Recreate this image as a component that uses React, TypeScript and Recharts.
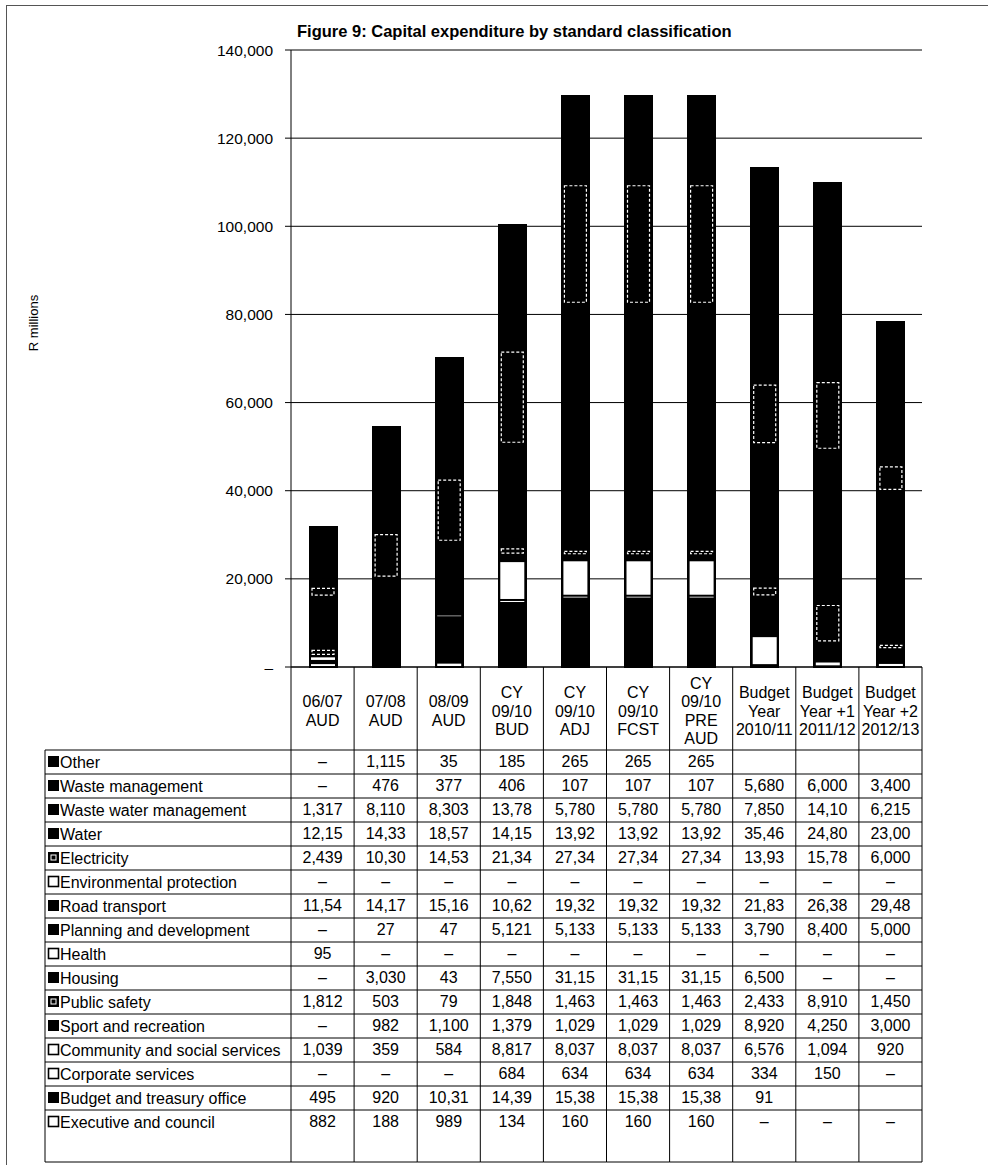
import { BarChart, Bar, XAxis, YAxis, CartesianGrid } from 'recharts'

const FONT = "'Liberation Sans', Arial, sans-serif"

// categories and the multi-line headers shown in the data table
const categories = [
  '06/07 AUD', '07/08 AUD', '08/09 AUD', 'CY 09/10 BUD', 'CY 09/10 ADJ',
  'CY 09/10 FCST', 'CY 09/10 PRE AUD', 'Budget Year 2010/11',
  'Budget Year +1 2011/12', 'Budget Year +2 2012/13',
]
const headerLines = [
  ['06/07', 'AUD'], ['07/08', 'AUD'], ['08/09', 'AUD'],
  ['CY', '09/10', 'BUD'], ['CY', '09/10', 'ADJ'], ['CY', '09/10', 'FCST'],
  ['CY', '09/10', 'PRE', 'AUD'],
  ['Budget', 'Year', '2010/11'], ['Budget', 'Year +1', '2011/12'], ['Budget', 'Year +2', '2012/13'],
]

// R millions, in table order (0 shows as a dash, null as an empty cell)
const other         = [0, 1115, 35, 185, 265, 265, 265, null, null, null]
const wasteMgmt     = [0, 476, 377, 406, 107, 107, 107, 5680, 6000, 3400]
const wasteWater    = [1317, 8110, 8303, 13780, 5780, 5780, 5780, 7850, 14100, 6215]
const water         = [12150, 14330, 18570, 14150, 13920, 13920, 13920, 35460, 24800, 23000]
const electricity   = [2439, 10300, 14530, 21340, 27340, 27340, 27340, 13930, 15780, 6000]
const environmental = [0, 0, 0, 0, 0, 0, 0, 0, 0, 0]
const roadTransport = [11540, 14170, 15160, 10620, 19320, 19320, 19320, 21830, 26380, 29480]
const planning      = [0, 27, 47, 5121, 5133, 5133, 5133, 3790, 8400, 5000]
const health        = [95, 0, 0, 0, 0, 0, 0, 0, 0, 0]
const housing       = [0, 3030, 43, 7550, 31150, 31150, 31150, 6500, 0, 0]
const publicSafety  = [1812, 503, 79, 1848, 1463, 1463, 1463, 2433, 8910, 1450]
const sport         = [0, 982, 1100, 1379, 1029, 1029, 1029, 8920, 4250, 3000]
const community     = [1039, 359, 584, 8817, 8037, 8037, 8037, 6576, 1094, 920]
const corporate     = [0, 0, 0, 684, 634, 634, 634, 334, 150, 0]
const budgetOffice  = [495, 920, 10310, 14390, 15380, 15380, 15380, 91, null, null]
const executive     = [882, 188, 989, 134, 160, 160, 160, 0, 0, 0]

const yTicks = [0, 20000, 40000, 60000, 80000, 100000, 120000, 140000]

type Kind = 'solid' | 'dashed' | 'white'
const series: { name: string; values: (number | null)[]; kind: Kind }[] = [
  { name: 'Other', values: other, kind: 'solid' },
  { name: 'Waste management', values: wasteMgmt, kind: 'solid' },
  { name: 'Waste water management', values: wasteWater, kind: 'solid' },
  { name: 'Water', values: water, kind: 'solid' },
  { name: 'Electricity', values: electricity, kind: 'dashed' },
  { name: 'Environmental protection', values: environmental, kind: 'white' },
  { name: 'Road transport', values: roadTransport, kind: 'solid' },
  { name: 'Planning and development', values: planning, kind: 'solid' },
  { name: 'Health', values: health, kind: 'white' },
  { name: 'Housing', values: housing, kind: 'solid' },
  { name: 'Public safety', values: publicSafety, kind: 'dashed' },
  { name: 'Sport and recreation', values: sport, kind: 'solid' },
  { name: 'Community and social services', values: community, kind: 'white' },
  { name: 'Corporate services', values: corporate, kind: 'white' },
  { name: 'Budget and treasury office', values: budgetOffice, kind: 'solid' },
  { name: 'Executive and council', values: executive, kind: 'white' },
]

const data = categories.map((cat, i) => {
  const row: Record<string, any> = { cat }
  series.forEach((s, k) => { row['s' + k] = s.values[i] ?? 0 })
  return row
})

// layout
const W = 988
const H = 1165
const PLOT_LEFT = 291
const PLOT_RIGHT = 922
const PLOT_TOP = 50
const PLOT_BOTTOM = 667
const COL_W = (PLOT_RIGHT - PLOT_LEFT) / categories.length
const HEADER_H = 83
const ROW_H = 24
const LAST_ROW_H = 52
const LABEL_LEFT = 45
const TABLE_FONT = 16

// Excel cells were too narrow, so the long numbers got cut to five characters
const cellText = (v: number | null) => {
  if (v === null) return ''
  if (v === 0) return '–'
  return v.toLocaleString('en-US').slice(0, 5)
}

const rowTop = (r: number) => PLOT_BOTTOM + HEADER_H + r * ROW_H
const tableBottom = rowTop(series.length - 1) + LAST_ROW_H

const makeShape = (kind: Kind) => (props: any) => {
  const { x, y, width, height } = props
  if (!height || height <= 0) return <g />
  // black base, stroked and crisp so stacked segments show no seams
  const base = (
    <rect x={x} y={y} width={width} height={height} fill="#000" stroke="#000"
      strokeWidth={1} shapeRendering="crispEdges" />
  )
  if (kind === 'solid') return base
  if (kind === 'white') {
    return (
      <g>
        {base}
        <rect x={x + 2} y={y + 1} width={Math.max(width - 4, 0)} height={Math.max(height - 2, 0)} fill="#fff" />
      </g>
    )
  }
  return (
    <g>
      {base}
      {height > 5 && (
        <rect x={x + 3} y={y + 2} width={width - 6} height={height - 4}
          fill="none" stroke="#fff" strokeWidth={1.2} strokeDasharray="3 2" />
      )}
    </g>
  )
}

function LegendKey({ kind, x, y }: { kind: Kind; x: number; y: number }) {
  if (kind === 'solid') return <rect x={x} y={y} width={11} height={11} fill="#000" />
  if (kind === 'white') return <rect x={x + 0.5} y={y + 0.5} width={10} height={10} fill="#fff" stroke="#000" strokeWidth={1.6} />
  return (
    <g>
      <rect x={x} y={y} width={11} height={11} fill="#000" />
      <rect x={x + 3} y={y + 3} width={5} height={5} fill="none" stroke="#fff" strokeWidth={1} />
    </g>
  )
}

// each x-axis tick draws its own column of the data table
function TableColumn(props: any) {
  const { x, y, payload } = props
  const i = payload.index
  const left = x - COL_W / 2
  const right = x + COL_W / 2
  const lines = headerLines[i]
  const midY = y + 44
  const lh = 18.5
  return (
    <g fontFamily={FONT} fontSize={TABLE_FONT} fill="#000">
      {lines.map((t, j) => (
        <text key={t + j} x={x} y={midY + (j - (lines.length - 1) / 2) * lh}
          textAnchor="middle" dominantBaseline="central">{t}</text>
      ))}
      <line x1={right} y1={y} x2={right} y2={tableBottom} stroke="#000" strokeWidth={1} />
      {i === 0 && <line x1={left} y1={y} x2={left} y2={tableBottom} stroke="#000" strokeWidth={1} />}
      {series.map((s, r) => (
        <g key={s.name}>
          <line x1={left} y1={rowTop(r)} x2={right} y2={rowTop(r)} stroke="#000" strokeWidth={1} />
          <text x={x} y={rowTop(r) + 11} textAnchor="middle" dominantBaseline="central">
            {cellText(s.values[i])}
          </text>
        </g>
      ))}
      <line x1={left} y1={tableBottom} x2={right} y2={tableBottom} stroke="#000" strokeWidth={1} />
      {i === 0 && (
        <g>
          <line x1={LABEL_LEFT} y1={rowTop(0)} x2={LABEL_LEFT} y2={tableBottom} stroke="#000" strokeWidth={1} />
          {series.map((s, r) => (
            <g key={s.name}>
              <line x1={LABEL_LEFT} y1={rowTop(r)} x2={left} y2={rowTop(r)} stroke="#000" strokeWidth={1} />
              <LegendKey kind={s.kind} x={LABEL_LEFT + 3} y={rowTop(r) + 6} />
              <text x={LABEL_LEFT + 15} y={rowTop(r) + 12} dominantBaseline="central">{s.name}</text>
            </g>
          ))}
          <line x1={LABEL_LEFT} y1={tableBottom} x2={left} y2={tableBottom} stroke="#000" strokeWidth={1} />
        </g>
      )}
    </g>
  )
}

const fmtY = (v: number) => (v === 0 ? '–' : v.toLocaleString('en-US'))

export default function App() {
  // stack from the bottom up: last table row sits at the base of each bar
  const stackOrder = series.map((s, k) => ({ ...s, key: 's' + k })).reverse()
  return (
    <div style={{ position: 'absolute', left: 0, top: 0, width: W, height: H, background: '#fff', fontFamily: FONT }}>
      <div style={{ position: 'absolute', left: 6, top: 5, width: W - 6, height: H - 5, borderTop: '1px solid #555', borderLeft: '1px solid #555' }} />
      <div style={{ position: 'absolute', left: 297, top: 22, fontSize: 16.5, fontWeight: 'bold', whiteSpace: 'nowrap' }}>
        Figure 9: Capital expenditure by standard classification
      </div>
      <div style={{ position: 'absolute', left: 33, top: 323, fontSize: 13, whiteSpace: 'nowrap', transform: 'translate(-50%, -50%) rotate(-90deg)' }}>
        R millions
      </div>
      <div style={{ position: 'absolute', left: 0, top: 0 }}>
        <BarChart width={W} height={H} data={data} barSize={28}
          margin={{ top: PLOT_TOP, right: W - PLOT_RIGHT, bottom: 0, left: PLOT_LEFT - 80 }}>
          <CartesianGrid vertical={false} stroke="#000" strokeWidth={1} yAxisId="l" />
          <XAxis dataKey="cat" interval={0} tickLine={false} tickSize={0} tickMargin={0}
            height={H - PLOT_BOTTOM} axisLine={{ stroke: '#000' }} tick={<TableColumn />} yAxisId="l" />
          <YAxis yAxisId="l" domain={[0, 140000]} ticks={yTicks} width={80} tickFormatter={fmtY}
            tickSize={6} tickMargin={12} axisLine={{ stroke: '#000' }} tickLine={{ stroke: '#000' }}
            tick={{ fill: '#000', fontSize: 15.5, fontFamily: FONT }} />
          <YAxis yAxisId="r" orientation="right" domain={[0, 140000]} width={0} tick={false}
            tickLine={false} axisLine={{ stroke: '#000' }} />
          {stackOrder.map(s => (
            <Bar key={s.key} dataKey={s.key} name={s.name} stackId="a" yAxisId="l"
              shape={makeShape(s.kind)} isAnimationActive={false} />
          ))}
        </BarChart>
      </div>
    </div>
  )
}
